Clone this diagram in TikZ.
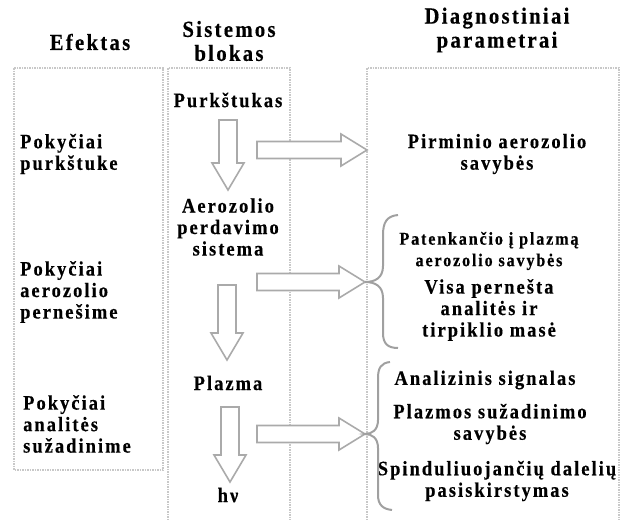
\documentclass[tikz,border=0pt]{standalone}
\usepackage{fontspec}
\setmainfont{Liberation Serif}[LetterSpace=10, FakeStretch=0.9, BoldFeatures={FakeBold=0.4}]
\usetikzlibrary{calc}
\definecolor{boxgray}{RGB}{200,200,200}
\definecolor{arrgray}{RGB}{170,170,170}
\definecolor{bracegray}{RGB}{160,160,160}
\begin{document}
\begin{tikzpicture}[x=1pt,y=-1pt,
  colbox/.style={draw=boxgray, line width=1.4pt, dash pattern=on 1.5pt off 1pt},
  blk/.style={draw=arrgray, line width=1.6pt, fill=white, line join=miter},
  bracel/.style={draw=bracegray, line width=2pt},
  txt/.style={font=\bfseries\fontsize{20.5}{21.5}\selectfont, align=center, inner sep=0pt},
  txts/.style={font=\bfseries\fontsize{18}{21.5}\selectfont, align=center, inner sep=0pt},
  hdr/.style={font=\bfseries\fontsize{23}{24}\selectfont, align=center, inner sep=0pt},
  lft/.style={txt, align=left, anchor=west}]
\useasboundingbox (0,0) rectangle (626,519);
% column boxes
\draw[colbox] (14,68) rectangle (163,470);
\draw[colbox] (168,530) -- (168,68) -- (290,68) -- (290,530);
\draw[colbox] (367,530) -- (367,68) -- (619,68) -- (619,530);
% headers
\node[hdr] (hEf) at (90,42) {Efektas};
\node[hdr] (hSis) at (229,41) {Sistemos\\blokas};
\node[hdr] (hDiag) at (497,30) {Diagnostiniai\\parametrai};
% middle column
\node[txt] (purk) at (228,100) {Purkštukas};
\node[txt] (aero) at (228,227) {Aerozolio\\perdavimo\\sistema};
\node[txt] (plaz) at (228,383) {Plazma};
\node[txt] (hv) at (228,495) {hν};
% left column
\node[lft] (e1) at (20,154) {Pokyčiai\\purkštuke};
\node[lft] (e2) at (20,292) {Pokyčiai\\aerozolio\\pernešime};
\node[lft] (e3) at (23,424) {Pokyčiai\\analitės\\sužadinime};
% right column
\node[txt] (r1) at (497,154) {Pirminio aerozolio\\savybės};
\node[txts] (r2) at (489,251) {Patenkančio į plazmą\\aerozolio savybės};
\node[txt] (r3) at (489,310) {Visa pernešta\\analitės ir\\tirpiklio masė};
\node[txt] (r4) at (485,380) {Analizinis signalas};
\node[txt] (r5) at (490,424) {Plazmos sužadinimo\\savybės};
\node[txt] (r6) at (497,481) {Spinduliuojančių dalelių\\pasiskirstymas};
% coordinates for block arrows
\coordinate (v1s) at (228,120); \coordinate (v1e) at (228,190);
\coordinate (v2s) at (227,285); \coordinate (v2e) at (227,360);
\coordinate (v3s) at (230,407); \coordinate (v3e) at (230,482);
\coordinate (h1s) at (257,150); \coordinate (h1e) at (367,150);
\coordinate (h2s) at (257,282); \coordinate (h2e) at (365,282);
\coordinate (h3s) at (257,434); \coordinate (h3e) at (365,434);
% vertical block arrows
\foreach \s/\e in {v1s/v1e, v2s/v2e, v3s/v3e}{
  \draw[blk] ($(\s)+(-9,0)$) -- ($(\e)+(-9,-27)$) -- ($(\e)+(-16,-27)$) -- (\e)
    -- ($(\e)+(16,-27)$) -- ($(\e)+(9,-27)$) -- ($(\s)+(9,0)$) -- cycle;
}
% horizontal block arrows
\foreach \s/\e in {h1s/h1e, h2s/h2e, h3s/h3e}{
  \draw[blk] ($(\s)+(0,-8.5)$) -- ($(\e)+(-26,-8.5)$) -- ($(\e)+(-26,-16)$) -- (\e)
    -- ($(\e)+(-26,16)$) -- ($(\e)+(-26,8.5)$) -- ($(\s)+(0,8.5)$) -- cycle;
}
% braces
\draw[bracel] (398,215) .. controls (387,216) and (383,222) .. (383,235) -- (383,266)
  .. controls (383,278) and (375,282) .. (h2e)
  .. controls (375,282) and (383,286) .. (383,298) -- (383,333)
  .. controls (383,344) and (388,348) .. (398,348);
\draw[bracel] (390,362) .. controls (381,363) and (378,368) .. (378,378) -- (378,420)
  .. controls (378,430) and (372,434) .. (h3e)
  .. controls (372,434) and (378,438) .. (378,448) -- (378,495)
  .. controls (378,505) and (383,509) .. (392,510);
\end{tikzpicture}
\end{document}
